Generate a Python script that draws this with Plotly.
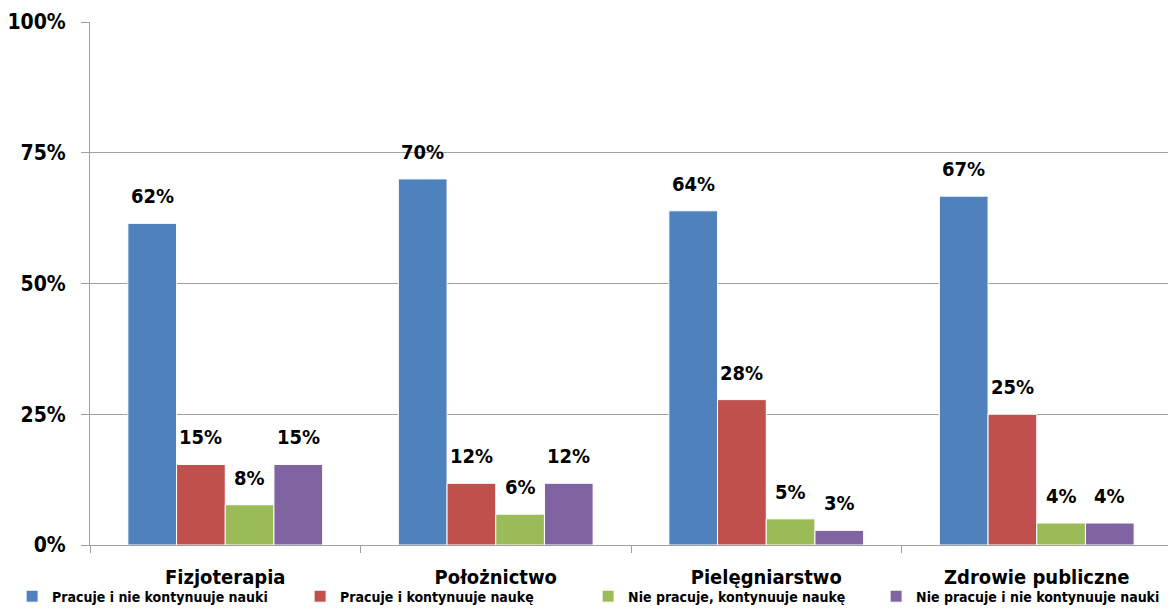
import plotly.graph_objects as go

categories = ["Fizjoterapia", "Położnictwo", "Pielęgniarstwo", "Zdrowie publiczne"]
series_names = [
    "Pracuje i nie kontynuuje nauki",
    "Pracuje i kontynuuje naukę",
    "Nie pracuje, kontynuuje naukę",
    "Nie pracuje i nie kontynuuje nauki",
]
s1 = [61.5, 70.0, 63.9, 66.7]
s2 = [15.4, 11.8, 27.8, 25.0]
s3 = [7.7, 5.9, 5.0, 4.2]
s4 = [15.4, 11.8, 2.8, 4.2]
labels1 = ["62%", "70%", "64%", "67%"]
labels2 = ["15%", "12%", "28%", "25%"]
labels3 = ["8%", "6%", "5%", "4%"]
labels4 = ["15%", "12%", "3%", "4%"]
colors = ["#4F81BD", "#C0504D", "#9BBB59", "#8064A2"]
y_ticks = [0, 25, 50, 75, 100]
y_ticktext = ["0%", "25%", "50%", "75%", "100%"]

FONT = "DejaVu Sans Condensed, Liberation Sans Narrow, sans-serif"

# page body has an 8px default margin; size the figure so it fits the window
W, H = 1168, 602
ML, MR, MT, MB = 82, 4, 14, 65
BARGAP = 0.28
plot_w = W - ML - MR
cat_w = plot_w / len(categories)
bar_w = cat_w * (1 - BARGAP) / 4

fig = go.Figure()
all_vals = [s1, s2, s3, s4]
all_labs = [labels1, labels2, labels3, labels4]
for name, vals, col in zip(series_names, all_vals, colors):
    fig.add_trace(go.Bar(
        x=categories, y=vals, name=name,
        marker=dict(color=col, line=dict(color="white", width=1)),
    ))

for k, (vals, labs) in enumerate(zip(all_vals, all_labs)):
    for cat, v, lab in zip(categories, vals, labs):
        fig.add_annotation(
            x=cat, y=v, text=lab, showarrow=False,
            xshift=(k - 1.5) * bar_w, yshift=27, yanchor="middle",
            font=dict(family=FONT, size=20, color="black", weight="bold"),
        )

fig.update_layout(
    width=W, height=H,
    margin=dict(l=ML, r=MR, t=MT, b=MB, autoexpand=False),
    paper_bgcolor="white", plot_bgcolor="white",
    barmode="group", bargap=BARGAP, bargroupgap=0,
    font=dict(family=FONT, color="black"),
    showlegend=True,
    legend=dict(
        orientation="h", x=-0.072, xanchor="left", y=-0.068, yanchor="top",
        entrywidth=243, entrywidthmode="pixels",
        bgcolor="rgba(0,0,0,0)",
        font=dict(family=FONT, size=14, color="black", weight="bold"),
        itemwidth=30, tracegroupgap=0,
    ),
)
fig.update_xaxes(
    showline=True, linecolor="#A0A0A0", linewidth=1,
    ticks="outside", tickson="boundaries", ticklen=7, tickcolor="#A0A0A0",
    tickfont=dict(family=FONT, size=20, color="black", weight="bold"),
    ticklabelstandoff=14,
    showgrid=False,
)
fig.update_yaxes(
    range=[0, 100], tickvals=y_ticks, ticktext=y_ticktext,
    showline=True, linecolor="#A0A0A0", linewidth=1,
    showgrid=True, gridcolor="#A0A0A0", gridwidth=1,
    ticks="outside", ticklen=8, tickcolor="#A0A0A0",
    ticklabelstandoff=11,
    tickfont=dict(family=FONT, size=21, color="black", weight="bold"),
    zeroline=False,
)

fig.write_html("out.html")
